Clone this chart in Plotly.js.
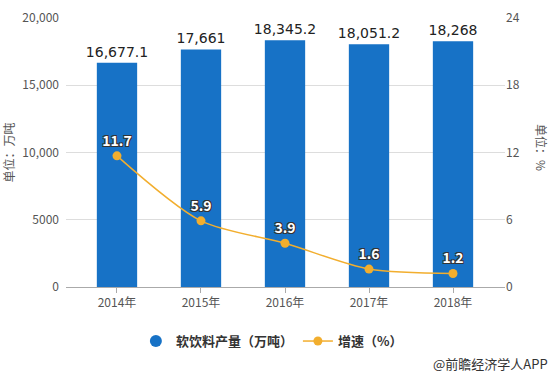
<!DOCTYPE html>
<html><head><meta charset="utf-8">
<script src="https://cdn.plot.ly/plotly-3.0.1.min.js"></script>
<style>html,body{margin:0;padding:0;background:#fff}#c{width:553px;height:374px}</style>
</head><body><div id="c"></div>
<script>
var years = ["2014年","2015年","2016年","2017年","2018年"];
var output = [16677.1, 17661, 18345.2, 18051.2, 18268];
var outputLabels = ["16,677.1","17,661","18,345.2","18,051.2","18,268"];
var growth = [11.7, 5.9, 3.9, 1.6, 1.2];
var growthLabels = ["11.7","5.9","3.9","1.6","1.2"];
var leftTicks = [0, 5000, 10000, 15000, 20000];
var leftTickText = ["0","5000","10,000","15,000","20,000"];
var rightTicks = [0, 6, 12, 18, 24];

var font = "Noto Sans CJK SC, Noto Sans, sans-serif";
var blue = "#1772C6", orange = "#F2AE2E";

var traces = [
  {type:"bar", x:years, y:output, text:outputLabels, textposition:"outside",
   constraintext:"none",
   textfont:{family:"DejaVu Sans, sans-serif", size:14, color:"#222"}, cliponaxis:false,
   marker:{color:blue}, width:0.48, showlegend:false, hoverinfo:"none"},
  {type:"scatter", mode:"markers", x:[null], y:[null], name:"软饮料产量（万吨）",
   marker:{color:blue, size:12, symbol:"circle"}, showlegend:true},
  {type:"scatter", mode:"lines+markers+text", x:years, y:growth, yaxis:"y2",
   name:"增速（%）", text:growthLabels, textposition:"top center",
   textfont:{family:font, size:14, color:"#fff", weight:"bold",
     shadow:"-1px -1px 0 #333, 1px -1px 0 #333, -1px 1px 0 #333, 1px 1px 0 #333"},
   line:{color:orange, width:1.5, shape:"spline", smoothing:0.8},
   marker:{color:orange, size:9}, cliponaxis:false}
];

var layout = {
  width:553, height:374,
  margin:{l:66, r:48, t:18, b:87},
  paper_bgcolor:"#fff", plot_bgcolor:"#fff",
  font:{family:font, size:12, color:"#555"},
  xaxis:{type:"category", range:[-0.607, 4.619], showgrid:false,
    showline:true, linecolor:"#aaa", linewidth:1, ticks:"outside",
    ticklen:5, tickcolor:"#aaa", tickfont:{family:font, size:12, color:"#555"}},
  yaxis:{range:[0,20000], tickvals:leftTicks, ticktext:leftTickText,
    gridcolor:"#ddd", gridwidth:1, zeroline:false, showline:false,
    tickfont:{family:font, size:12, color:"#555"}, ticks:"", ticklabelstandoff:6,
    title:{text:"单位：万吨", font:{family:font, size:12, color:"#555"}, standoff:8}},
  yaxis2:{range:[0,24], tickvals:rightTicks, overlaying:"y", side:"right",
    showgrid:false, zeroline:false, showline:false,
    tickfont:{family:font, size:12, color:"#555"}},
  legend:{orientation:"h", x:0.469, xanchor:"center", yref:"container",
    y:0.088, yanchor:"middle",
    font:{family:font, size:13, color:"#333", weight:"bold"}},
  annotations:[
    {xref:"paper", yref:"paper", x:1.082, y:0.517, yanchor:"middle", xanchor:"center",
     text:"单位：%", textangle:90, showarrow:false,
     font:{family:font, size:12, color:"#555"}},
    {xref:"paper", yref:"paper", x:1.0, y:-0.286, xanchor:"right", yanchor:"middle",
     xshift:45, text:"@前瞻经济学人APP", showarrow:false,
     font:{family:font, size:13, color:"#333"}}
  ]
};
Plotly.newPlot("c", traces, layout, {displayModeBar:false, staticPlot:true});
</script></body></html>
